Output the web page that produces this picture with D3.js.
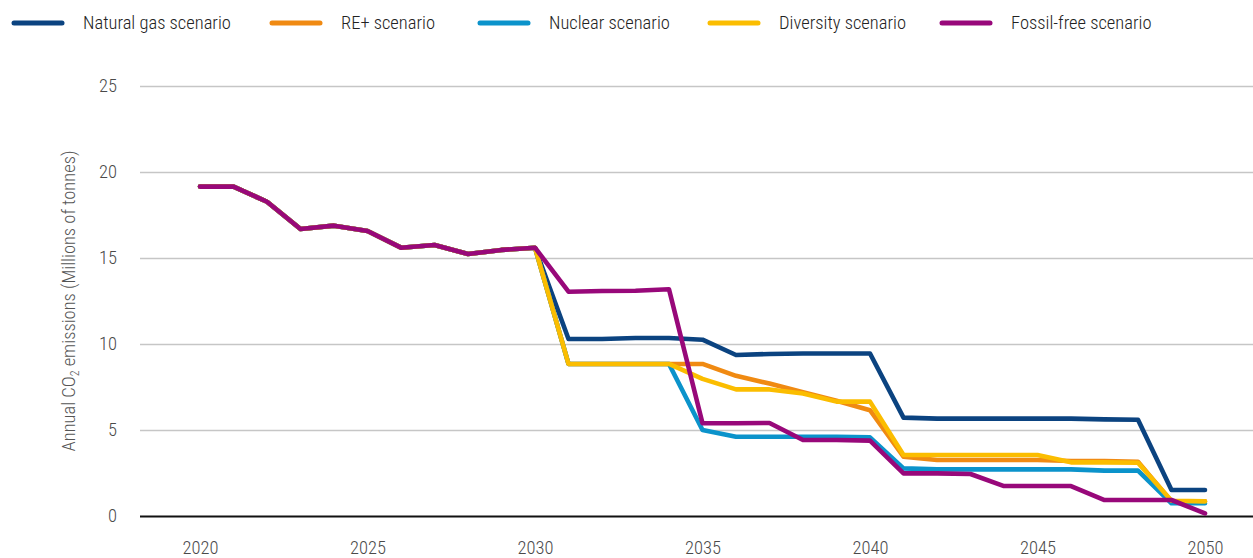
<!DOCTYPE html>
<html>
<head>
<meta charset="utf-8">
<script src="https://cdn.jsdelivr.net/npm/d3@7"></script>
<style>
  html, body { margin: 0; padding: 0; background: #fff; }
  svg text { font-family: "Roboto Condensed", "Liberation Sans Narrow", "DejaVu Sans Condensed", Roboto, sans-serif; font-stretch: condensed; font-weight: 300; }
</style>
</head>
<body>
<svg id="chart"></svg>
<script>
'use strict';

var years = d3.range(2020, 2051);
var pastEmissions = [19.15, 19.15, 18.27, 16.69, 16.88, 16.57, 15.6, 15.76, 15.23, 15.47, 15.6];

var naturalGas = [10.29, 10.29, 10.35, 10.35, 10.25, 9.36, 9.42, 9.45, 9.45, 9.45,
	5.72, 5.66, 5.66, 5.66, 5.66, 5.66, 5.62, 5.6, 1.51, 1.51];
var rePlus = [8.84, 8.84, 8.84, 8.84, 8.84, 8.15, 7.7, 7.2, 6.7, 6.15,
	3.45, 3.26, 3.26, 3.26, 3.26, 3.2, 3.2, 3.15, 0.85, 0.85];
var nuclear = [8.84, 8.84, 8.84, 8.84, 5.0, 4.61, 4.61, 4.61, 4.6, 4.57,
	2.77, 2.71, 2.71, 2.71, 2.71, 2.71, 2.64, 2.64, 0.74, 0.74];
var diversity = [8.84, 8.84, 8.84, 8.84, 7.97, 7.36, 7.36, 7.12, 6.65, 6.65,
	3.55, 3.55, 3.55, 3.55, 3.55, 3.12, 3.12, 3.1, 0.89, 0.85];
var fossilFree = [13.04, 13.08, 13.1, 13.18, 5.39, 5.39, 5.41, 4.42, 4.42, 4.38,
	2.48, 2.48, 2.44, 1.74, 1.74, 1.74, 0.93, 0.93, 0.93, 0.15];

var seriesNames = ['Natural gas scenario', 'RE+ scenario', 'Nuclear scenario', 'Diversity scenario', 'Fossil-free scenario'];
var seriesColors = ['#0b4380', '#f08a12', '#0b93cb', '#fbbd00', '#98087a'];
var yTicks = [0, 5, 10, 15, 20, 25];
var xTicks = [2020, 2025, 2030, 2035, 2040, 2045, 2050];

var WIDTH = 1253,
	HEIGHT = 558;

var svg = d3.select('#chart')
	.attr('width', WIDTH)
	.attr('height', HEIGHT);

var x = d3.scaleLinear().domain([2020, 2050]).range([200, 1205]);
var y = d3.scaleLinear().domain([0, 25]).range([516, 86]);

// grid + y labels
var yAxis = svg.append('g')
	.attr('transform', 'translate(140,0)')
	.call(d3.axisLeft(y).tickValues(yTicks).tickSize(-(WIDTH - 140)).tickPadding(23));
yAxis.select('.domain').remove();
yAxis.selectAll('.tick line')
	.style('stroke', function (d) { return d === 0 ? '#111' : '#c6c6c6'; })
	.style('stroke-width', function (d) { return d === 0 ? 2 : 1.4; });
yAxis.selectAll('.tick text')
	.style('font-size', '18.5px')
	.style('fill', '#4a4a4a');

var xAxis = svg.append('g')
	.attr('transform', 'translate(0,516)')
	.call(d3.axisBottom(x).tickValues(xTicks).tickFormat(d3.format('d')).tickSize(0).tickPadding(25));
xAxis.select('.domain').remove();
xAxis.selectAll('.tick text')
	.style('font-size', '18.5px')
	.style('fill', '#4a4a4a');

// axis title
var title = svg.append('text')
	.attr('transform', 'translate(75,301) rotate(-90)')
	.attr('text-anchor', 'middle')
	.style('font-size', '18.5px')
	.style('fill', '#555');
title.append('tspan').text('Annual CO');
title.append('tspan').attr('dy', 4).style('font-size', '12px').text('2');
title.append('tspan').attr('dy', -4).text(' emissions (Millions of tonnes)');

// lines
var allSeries = [naturalGas, rePlus, nuclear, diversity, fossilFree].map(function (s, i) {
	return {
		name: seriesNames[i],
		color: seriesColors[i],
		values: pastEmissions.concat(s)
	};
});

var line = d3.line()
	.x(function (d, i) { return x(years[i]); })
	.y(function (d) { return y(d); });

svg.append('g').selectAll('path')
	.data(allSeries)
	.enter()
	.append('path')
	.attr('d', function (d) { return line(d.values); })
	.style('fill', 'none')
	.style('stroke', function (d) { return d.color; })
	.style('stroke-width', 4.6)
	.style('stroke-linejoin', 'round')
	.style('stroke-linecap', 'round');

// legend
var legendX = [12, 270, 478, 708, 940];
var legend = svg.append('g').selectAll('g')
	.data(allSeries)
	.enter()
	.append('g')
	.attr('transform', function (d, i) { return 'translate(' + legendX[i] + ',23)'; });

legend.append('line')
	.attr('x1', 2).attr('x2', 50)
	.attr('y1', 0).attr('y2', 0)
	.style('stroke', function (d) { return d.color; })
	.style('stroke-width', 5)
	.style('stroke-linecap', 'round');

legend.append('text')
	.attr('x', 71)
	.attr('y', 0)
	.attr('dy', '0.35em')
	.style('font-size', '18.5px')
	.style('fill', '#222')
	.text(function (d) { return d.name; });
</script>
</body>
</html>
